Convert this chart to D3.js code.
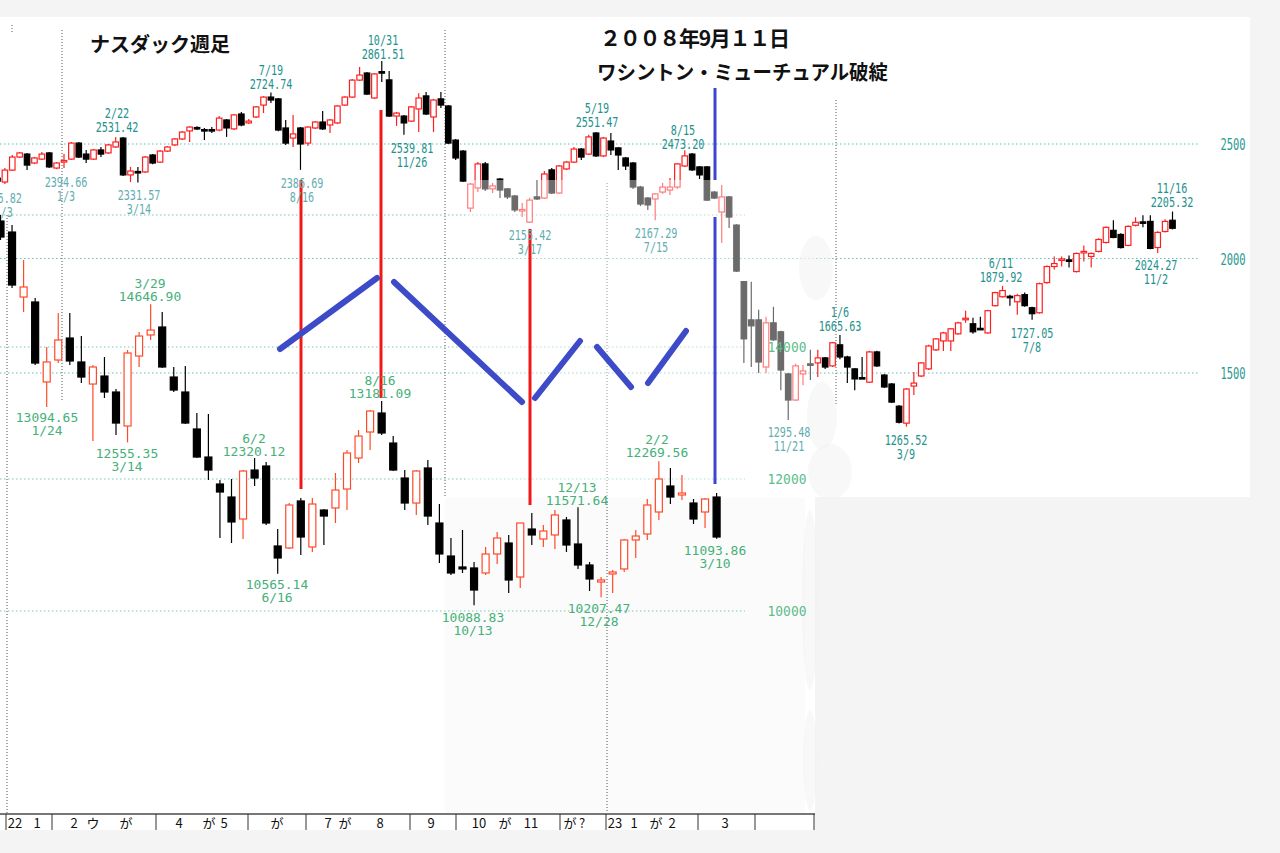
<!DOCTYPE html>
<html><head><meta charset="utf-8">
<script src="https://cdn.jsdelivr.net/npm/d3@7"></script>
<style>html,body{margin:0;padding:0;background:#f4f4f4;overflow:hidden}</style>
</head><body>
<svg id="c" width="1280" height="853"></svg>
<script>
// ---------- DATA ----------
// NASDAQ weekly (week index -9 .. 150, index 0 = first week of 2007)
const nasdaqStart = -9;
const nasdaqOpen  = [2351,2334,2386,2443,2456,2417,2434,2461,2395,2423,2434,2504,2456,2434,2474,2461,2487,2526,2365,2380,2378,2452,2421,2469,2496,2522,2557,2572,2563,2563,2561,2605,2566,2631,2592,2618,2670,2705,2697,2570,2526,2570,2504,2570,2596,2583,2592,2670,2705,2779,2810,2701,2816,2780,2622,2622,2600,2653,2710,2618,2697,2666,2517,2469,2220,2308,2413,2304,2347,2304,2273,2210,2159,2269,2264,2387,2286,2391,2421,2478,2456,2548,2448,2513,2483,2439,2417,2312,2264,2260,2290,2299,2312,2404,2456,2400,2400,2290,2203,2269,2146,1899,1732,1732,1526,1719,1680,1496,1382,1496,1540,1544,1566,1531,1623,1570,1518,1480,1460,1592,1491,1452,1355,1281,1443,1487,1518,1601,1640,1640,1671,1735,1715,1695,1675,1794,1833,1835,1811,1842,1785,1763,1895,1965,1994,1994,1943,2028,2009,2031,2070,2123,2105,2057,2145,2160,2162,2048,2118,2167];
const nasdaqHigh  = [2365,2395,2452,2465,2461,2443,2465,2465,2421,2456,2509,2509,2474,2478,2487,2500,2531,2531,2400,2400,2448,2456,2474,2491,2526,2557,2578,2578,2570,2574,2622,2609,2631,2640,2609,2666,2709,2725,2701,2605,2627,2574,2578,2600,2644,2609,2670,2709,2784,2836,2814,2810,2862,2819,2640,2627,2666,2722,2727,2697,2727,2670,2522,2474,2330,2421,2421,2330,2352,2308,2277,2242,2265,2343,2382,2395,2408,2426,2487,2483,2540,2552,2531,2548,2487,2443,2421,2317,2269,2286,2330,2352,2417,2473,2461,2404,2404,2295,2321,2273,2150,1902,1899,1776,1746,1789,1684,1500,1540,1535,1601,1601,1570,1636,1666,1575,1522,1570,1597,1597,1496,1456,1360,1434,1504,1548,1623,1653,1680,1697,1724,1772,1741,1746,1776,1855,1880,1842,1846,1851,1789,1895,1969,2009,2009,2013,2026,2057,2026,2088,2140,2167,2110,2145,2180,2189,2189,2119,2171,2205];
const nasdaqLow   = [2325,2325,2382,2439,2386,2412,2430,2395,2390,2395,2430,2439,2417,2430,2443,2456,2483,2360,2334,2332,2373,2412,2417,2465,2491,2517,2509,2561,2517,2548,2556,2531,2561,2578,2587,2613,2635,2679,2556,2496,2487,2387,2491,2565,2561,2548,2587,2666,2701,2775,2714,2697,2771,2618,2579,2540,2596,2552,2627,2552,2657,2500,2430,2334,2203,2290,2295,2286,2264,2260,2203,2181,2155,2255,2260,2282,2282,2386,2417,2430,2452,2443,2443,2452,2387,2387,2304,2229,2212,2167,2282,2277,2304,2400,2382,2347,2251,2260,2068,2133,1941,1544,1526,1500,1500,1640,1425,1295,1378,1447,1469,1482,1518,1526,1560,1456,1425,1474,1456,1526,1434,1369,1280,1266,1404,1482,1513,1596,1596,1596,1667,1719,1671,1688,1671,1790,1829,1794,1754,1789,1732,1759,1890,1952,1965,1961,1939,1987,1961,2026,2066,2088,2044,2053,2140,2136,2040,2024,2114,2127];
const nasdaqClose = [2338,2386,2443,2461,2408,2439,2456,2400,2417,2428,2504,2443,2434,2474,2456,2496,2509,2365,2382,2376,2443,2417,2469,2487,2522,2552,2574,2568,2559,2559,2613,2570,2627,2583,2600,2662,2705,2692,2561,2504,2544,2500,2574,2596,2566,2605,2666,2705,2779,2801,2718,2806,2812,2622,2635,2592,2662,2701,2631,2692,2670,2504,2439,2338,2325,2413,2304,2317,2299,2269,2212,2214,2255,2260,2369,2286,2404,2421,2478,2443,2531,2448,2526,2474,2452,2404,2312,2238,2234,2282,2312,2312,2413,2448,2387,2365,2255,2264,2269,2181,1945,1649,1706,1548,1719,1645,1513,1382,1531,1509,1537,1566,1526,1632,1570,1526,1474,1478,1592,1531,1439,1373,1285,1430,1456,1544,1618,1649,1675,1693,1719,1739,1680,1693,1772,1851,1860,1831,1838,1794,1759,1890,1965,1978,1998,1990,2022,2031,2022,2083,2136,2092,2048,2140,2158,2156,2044,2114,2162,2132];

// Lower index, weekly (index 0 .. 62)
const dowOpen  = [15909,15742,14757,14682,13470,13803,14136,13773,13439,13560,13318,12803,13863,14182,14303,13545,13318,12758,12333,11924,11727,11394,12136,12197,10985,10955,11667,10970,11530,11561,11848,12318,12712,13000,12545,12015,11636,12167,11333,10833,10667,10652,10576,10864,11030,10515,11242,11091,11152,11379,11015,10697,10440,10561,10637,11076,11167,11500,11894,11758,11636,11500,11727];
const dowHigh  = [16000,15848,15318,14742,14000,14515,14515,14166,13727,13848,13364,13954,14227,14647,14530,13697,13712,13000,12985,11985,12000,12136,12318,12258,11243,11636,11712,11712,11545,12091,12439,12742,13045,13182,12651,12136,12136,12288,11621,11106,11227,10742,10970,11197,11152,11333,11485,11303,11530,11424,11572,10742,10515,10621,11091,11227,11697,12270,12167,12061,11697,11712,11788];
const dowLow   = [15621,14894,14530,13727,13091,13757,13727,13454,12576,13227,12667,12555,13697,14106,13682,13318,12833,12318,11985,11106,11030,11091,11894,11303,10565,10939,10849,10894,11000,11333,11530,12242,12439,12667,12121,11530,11455,11303,10727,10546,10576,10089,10546,10712,10273,10349,11000,10970,10939,10894,10637,10303,10207,10273,10591,10803,11076,11379,11621,11682,11318,11258,11094];
const dowClose = [15666,14939,14909,13757,13773,14106,13788,13545,13697,13318,12848,13909,14166,14257,13697,13348,12848,12333,12136,11803,11349,12121,12015,11333,10803,11606,11121,11621,11439,11833,12394,12651,13030,12697,12136,11636,12121,11439,10864,10576,10637,10318,10864,11106,10470,11333,11152,11212,11455,11000,10697,10485,10470,10591,11076,11136,11606,12000,11727,11788,11394,11697,11121];

// annotation labels
const nasdaqNotes = [
  {lines:["2376.82","11/3"], light:true},
  {lines:["2394.66","1/3"], light:true},
  {lines:["2/22","2531.42"]},
  {lines:["2331.57","3/14"], light:true},
  {lines:["7/19","2724.74"]},
  {lines:["2386.69","8/16"], light:true},
  {lines:["10/31","2861.51"]},
  {lines:["2539.81","11/26"]},
  {lines:["2155.42","3/17"], light:true},
  {lines:["5/19","2551.47"]},
  {lines:["2167.29","7/15"], light:true},
  {lines:["8/15","2473.20"]},
  {lines:["1295.48","11/21"], light:true},
  {lines:["1/6","1665.63"]},
  {lines:["1265.52","3/9"]},
  {lines:["6/11","1879.92"]},
  {lines:["1727.05","7/8"]},
  {lines:["2024.27","11/2"]},
  {lines:["11/16","2205.32"]}
];
const nasdaqNoteY = [203,187,118,200,75,188,45,153,240,113,238,135,437,317,445,268,338,270,193];
const nasdaqNoteX = [0.6,66,117,139,271,302,383,412,530,597,656,683,789,840,906,1001,1032,1156,1172];

const dowNotes = [
  ["13094.65","1/24"],["3/29","14646.90"],["12555.35","3/14"],["6/2","12320.12"],["10565.14","6/16"],
  ["8/16","13181.09"],["10088.83","10/13"],["12/13","11571.64"],["10207.47","12/28"],["2/2","12269.56"],["11093.86","3/10"]
];
const dowNoteX = [47,150,127,254,277,380,473,577,599,657,715];
const dowNoteY = [422,288,458,443,589,385,622,492,613,444,555];

const nasdaqTicks = [2500,2000,1500];
const dowTicks = [16000,14000,12000,10000];
const dowTickLabels = [14000,12000,10000];

const axisLabels = ["22","1","2","ウ","が","4","が","5","が","7","が","8","9","10","が","11","が","?","23","1","が","2","3"];
const axisLabelX = [15,37,74,93,126,179,209,224,277,328,345,380,431,479,505,531,570,582,615,634,656,672,725];
const axisSepX = [6,52,156,248,306,410,456,560,606,698,755,814];

// ---------- SCALES ----------
const xN = d3.scaleLinear().domain([0,150]).range([64,1172.5]);
const yN = d3.scaleLinear().domain([1500,2500]).range([373,144]);
const xD = d3.scaleLinear().domain([0,62]).range([0.5,716.6]);
const yD = d3.scaleLinear().domain([10000,12000]).range([611,479]);

const svg = d3.select("#c");
svg.append("rect").attr("width",1280).attr("height",853).attr("fill","#f4f4f4");
svg.append("rect").attr("x",0).attr("y",17).attr("width",1250).attr("height",480).attr("fill","#fff");
svg.append("rect").attr("x",0).attr("y",17).attr("width",815).attr("height",813).attr("fill","#fff");
svg.append("rect").attr("x",445).attr("y",498).attr("width",360).attr("height",315).attr("fill","#fbfbfb");

const dot = "1.5,2.5";
svg.append("g").selectAll("line").data(nasdaqTicks).join("line")
  .attr("x1",0).attr("x2",1198).attr("y1",d=>yN(d)).attr("y2",d=>yN(d))
  .attr("stroke","#62bdb4").attr("stroke-dasharray",dot);
svg.append("g").selectAll("line").data(dowTicks).join("line")
  .attr("x1",0).attr("x2",745).attr("y1",d=>yD(d)).attr("y2",d=>yD(d))
  .attr("stroke","#7ccab5").attr("stroke-dasharray",dot);

const vlines = [[62,30,400],[445,30,497],[836,100,405],[7,215,814],[607,183,814],[12,25,34]];
svg.append("g").selectAll("line").data(vlines).join("line")
  .attr("x1",d=>d[0]).attr("x2",d=>d[0]).attr("y1",d=>d[1]).attr("y2",d=>d[2])
  .attr("stroke","#555").attr("stroke-dasharray","1,2");

function candles(g, n, xs, ys, O,H,L,C, w, upCol, dnCol, idx0){
  const data = d3.range(n).map(k=>({i:k+idx0,o:O[k],h:H[k],l:L[k],c:C[k]}));
  const grp = g.selectAll("g").data(data).join("g");
  grp.append("line").attr("x1",d=>xs(d.i)).attr("x2",d=>xs(d.i))
    .attr("y1",d=>ys(d.h)).attr("y2",d=>ys(d.l))
    .attr("stroke",d=>d.c>d.o?upCol:dnCol).attr("stroke-width",1.2);
  grp.append("rect").attr("x",d=>xs(d.i)-w/2)
    .attr("y",d=>Math.min(ys(d.o),ys(d.c)))
    .attr("width",w)
    .attr("height",d=>Math.max(1.5,Math.abs(ys(d.o)-ys(d.c))))
    .attr("fill",d=>d.c>d.o?"#fff":dnCol)
    .attr("stroke",d=>d.c>d.o?upCol:dnCol).attr("stroke-width",1.2);
}
candles(svg.append("g"), nasdaqOpen.length, xN, yN, nasdaqOpen,nasdaqHigh,nasdaqLow,nasdaqClose, 5.5, "#ff1f1f", "#000", nasdaqStart);

svg.append("rect").attr("x",467).attr("y",180).attr("width",348).attr("height",317).attr("fill","#fff").attr("opacity",0.42);
const blobs = [[816,268,17,32],[822,416,15,34],[830,472,22,28],[810,600,8,90],[810,760,7,50]];
svg.append("g").selectAll("ellipse").data(blobs).join("ellipse")
  .attr("cx",d=>d[0]).attr("cy",d=>d[1]).attr("rx",d=>d[2]).attr("ry",d=>d[3])
  .attr("fill","#f1f1f1").attr("opacity",0.5);

candles(svg.append("g"), dowOpen.length, xD, yD, dowOpen,dowHigh,dowLow,dowClose, 7, "#ff4a2a", "#000", 0);

const redLines = [[301,180,489],[381,110,398],[530,229,505]];
svg.append("g").selectAll("line").data(redLines).join("line")
  .attr("x1",d=>d[0]).attr("x2",d=>d[0]).attr("y1",d=>d[1]).attr("y2",d=>d[2])
  .attr("stroke","#f21818").attr("stroke-width",3);
const blueV = [[715,88,180],[715,217,484]];
svg.append("g").selectAll("line").data(blueV).join("line")
  .attr("x1",d=>d[0]).attr("x2",d=>d[0]).attr("y1",d=>d[1]).attr("y2",d=>d[2])
  .attr("stroke","#3c46d2").attr("stroke-width",3);
const blueM = [[280,349,377,278],[394,282,522,402],[535,398,580,341],[597,347,631,387],[648,383,686,331]];
svg.append("g").selectAll("line").data(blueM).join("line")
  .attr("x1",d=>d[0]).attr("y1",d=>d[1]).attr("x2",d=>d[2]).attr("y2",d=>d[3])
  .attr("stroke","#3d4bc8").attr("stroke-width",6).attr("stroke-linecap","round");

function label(x,y,t,cw,size,col){
  svg.append("text").attr("x",x).attr("y",y).attr("text-anchor","middle")
    .attr("font-family","DejaVu Sans Mono").attr("font-size",size).attr("fill",col)
    .attr("textLength",t.length*cw).attr("lengthAdjust","spacingAndGlyphs").text(t);
}
nasdaqNotes.forEach((n,k)=>{
  const col = n.light ? "#62aeb0" : "#23928e";
  label(nasdaqNoteX[k], nasdaqNoteY[k], n.lines[0], 6.1, 14.5, col);
  label(nasdaqNoteX[k], nasdaqNoteY[k]+13.5, n.lines[1], 6.1, 14.5, col);
});
dowNotes.forEach((n,k)=>{
  label(dowNoteX[k], dowNoteY[k], n[0], 7.8, 12.5, "#46b079");
  label(dowNoteX[k], dowNoteY[k]+12.5, n[1], 7.8, 12.5, "#46b079");
});
nasdaqTicks.forEach(v=>label(1233, yN(v)+6, String(v), 6.3, 15.5, "#2a9a8f"));
dowTickLabels.forEach(v=>label(787, yD(v)+5, String(v), 7.8, 14, "#5cbd8a"));

const jp = "'Noto Sans CJK JP', sans-serif";
svg.append("text").attr("x",90).attr("y",52).attr("font-family",jp).attr("font-size",20).attr("font-weight","bold").attr("fill","#111").text("ナスダック週足");
svg.append("text").attr("x",600).attr("y",46).attr("font-family",jp).attr("font-size",21).attr("font-weight","bold").attr("fill","#111")
  .attr("textLength",190).attr("lengthAdjust","spacing").text("２００８年9月１１日");
svg.append("text").attr("x",597).attr("y",80).attr("font-family",jp).attr("font-size",20).attr("font-weight","bold").attr("fill","#111")
  .attr("textLength",291).attr("lengthAdjust","spacingAndGlyphs").text("ワシントン・ミューチュアル破綻");

svg.append("line").attr("x1",0).attr("x2",815).attr("y1",814).attr("y2",814).attr("stroke","#777").attr("stroke-width",2);
svg.append("g").selectAll("line").data(axisSepX).join("line")
  .attr("x1",d=>d).attr("x2",d=>d).attr("y1",814).attr("y2",830).attr("stroke","#333").attr("stroke-width",1);
svg.append("g").selectAll("text").data(axisLabels).join("text")
  .attr("x",(d,k)=>axisLabelX[k]).attr("y",828).attr("text-anchor","middle")
  .attr("font-family",jp).attr("font-size",13).attr("fill","#111").text(d=>d);
</script>
</body></html>
